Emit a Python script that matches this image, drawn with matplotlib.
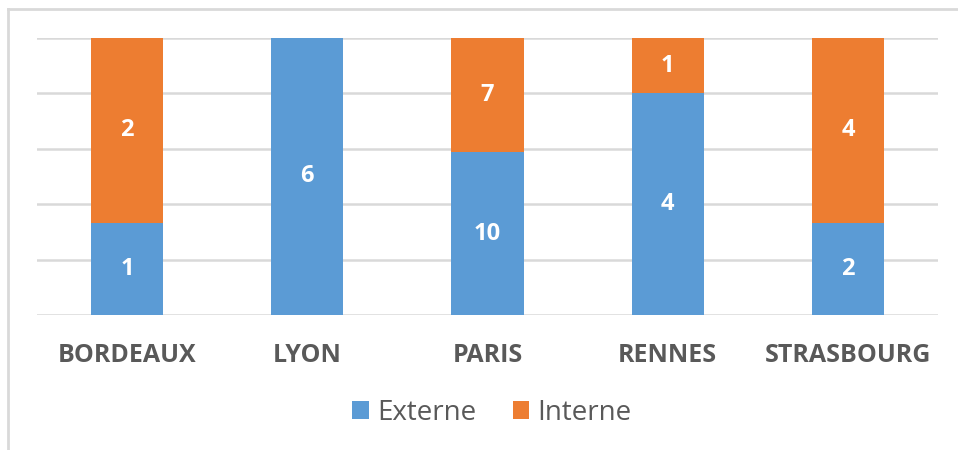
import matplotlib
matplotlib.use("Agg")
import matplotlib.pyplot as plt
from matplotlib.lines import Line2D
from matplotlib.patches import Patch

categories = ["BORDEAUX", "LYON", "PARIS", "RENNES", "STRASBOURG"]
externe = [1, 6, 10, 4, 2]
interne = [2, 0, 7, 1, 4]
series_names = ["Externe", "Interne"]
colors = ["#5B9BD5", "#ED7D31"]

plt.rcParams['font.family'] = ['Open Sans', 'DejaVu Sans']

fig = plt.figure(figsize=(9.58, 4.5), dpi=100)
ax = fig.add_axes([37/958, 1 - 315/450, (938-37)/958, (315-38)/450])

x = list(range(len(categories)))
tot = [e + i for e, i in zip(externe, interne)]
pe = [e / t * 100 for e, t in zip(externe, tot)]
pi = [i / t * 100 for i, t in zip(interne, tot)]

be = ax.bar(x, pe, width=0.4, color=colors[0], zorder=3)
bi = ax.bar(x, pi, width=0.4, bottom=pe, color=colors[1], zorder=3)

for k in range(len(categories)):
    if externe[k]:
        ax.text(x[k], pe[k] / 2, str(externe[k]), ha='center', va='center',
                color='white', fontsize=17, fontweight='bold', zorder=4)
    if interne[k]:
        ax.text(x[k], pe[k] + pi[k] / 2, str(interne[k]), ha='center', va='center',
                color='white', fontsize=17, fontweight='bold', zorder=4)

ax.set_xlim(-0.5, len(categories) - 0.5)
ax.set_ylim(0, 100)
ax.set_yticks([0, 20, 40, 60, 80, 100])
ax.yaxis.grid(True, color='#D9D9D9', linewidth=1.8, zorder=0)
ax.set_yticklabels([])
ax.tick_params(axis='y', length=0)
ax.tick_params(axis='x', length=0, pad=20)
ax.set_xticks(x)
ax.set_xticklabels(categories, fontsize=18, fontweight='bold', color='#595959')
for s in ax.spines.values():
    s.set_visible(False)
ax.set_facecolor('none')

handles = [Patch(facecolor=colors[0]), Patch(facecolor=colors[1])]
fig.legend(handles, series_names, loc='center', bbox_to_anchor=(492/958, 1 - 413/450),
           ncol=2, frameon=False, fontsize=20, handlelength=0.6, handleheight=0.6,
           handletextpad=0.3, columnspacing=1.3, labelcolor='#595959')

fig.add_artist(Line2D([8/958, 8/958], [0, 1 - 9/450], transform=fig.transFigure,
                      color='#D9D9D9', linewidth=2))
fig.add_artist(Line2D([8/958, 1], [1 - 9/450, 1 - 9/450], transform=fig.transFigure,
                      color='#D9D9D9', linewidth=2))

fig.savefig("out.png", dpi=100)
